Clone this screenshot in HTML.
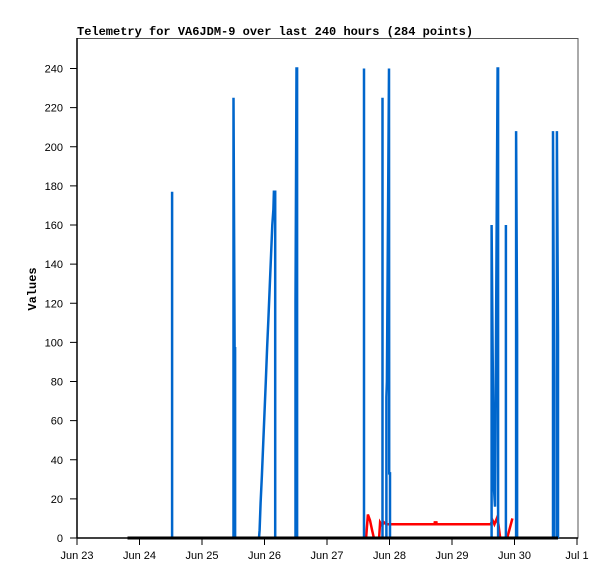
<!DOCTYPE html>
<html><head><meta charset="utf-8"><style>
body{margin:0;background:#fff;}
svg{display:block;}
</style></head><body>
<svg id="chart" width="615" height="579" xmlns="http://www.w3.org/2000/svg">
<rect width="615" height="579" fill="#fff"/>
<text x="77" y="35" font-family="Liberation Mono, monospace" font-weight="bold" font-size="12">Telemetry for VA6JDM-9 over last 240 hours (284 points)</text>
<text transform="translate(36,289) rotate(-90)" text-anchor="middle" font-family="Liberation Mono, monospace" font-weight="bold" font-size="12">Values</text>
<rect x="77" y="38.5" width="501" height="499.5" fill="none" stroke="#555" stroke-width="1"/>
<g id="axes"></g>
<g id="series"></g>
</svg>
<script>
const yTicks=[0,20,40,60,80,100,120,140,160,180,200,220,240];
const xTickLabels=["Jun 23","Jun 24","Jun 25","Jun 26","Jun 27","Jun 28","Jun 29","Jun 30","Jul 1"];
const blackT=[19.4,184.7];
const blackV=[0,0];
const blueT=[36.5,36.5,36.5, 60.1,60.1,60.5,60.7,60.7,
 69.9,70.1,70.5,71,71.5,72,72.5,73,73.5,74,74.5,75,75.4,75.6,76.1,76.1,
 83.9,83.9,84.3,84.5,84.5, 110.2,110.2,110.2, 117.3,117.3,117.3,
 118.8,118.8,119.0,119.8,119.9,120.2,120.2,
 159.2,159.2,159.6,160.1,160.5,161.5,161.7,161.7,
 164.7,164.7,164.7, 168.6,168.6,169,169, 182.8,182.8,183.2,183.2, 184.3,184.3,184.7,184.7];
const blueV=[0,177,0, 0,225,97,97,0,
 0,4,18,32,48,64,80,97,112,128,144,160,168,177,177,0,
 0,121,240,240,0, 0,240,0, 0,225,0,
 0,72,80,240,33,33,0,
 0,160,97,26,16,240,240,0,
 0,160,0, 0,208,104,0, 0,208,80,0, 0,208,104,0];
const redT=[111,111.7,112.5,113.3,114,116,116.4,117.1,117.9,118.7,137.3,137.4,138,138.1,158.8,159.6,160.3,161.2,161.8,162.5,165.2,167.2];
const redV=[0,12,9,4,0,0,8,6.5,8,7,7,8,8,7,7,9,7,10,7,0,0,10];

const X0=77,X1=577,Y0=538,Y240=68.5,TMAX=192;
const xs=t=>X0+(t/TMAX)*(X1-X0);
const ys=v=>Y0-(v/240)*(Y0-Y240);
const NS="http://www.w3.org/2000/svg";
const axes=document.getElementById('axes');
const series=document.getElementById('series');
function mk(tag,attrs,parent){const e=document.createElementNS(NS,tag);for(const k in attrs)e.setAttribute(k,attrs[k]);parent.appendChild(e);return e;}

const yl=mk('line',{x1:X0,y1:38,x2:X0,y2:Y0,stroke:'#000','stroke-width':1.5},axes);


const xl=mk('line',{x1:X0,y1:Y0,x2:578,y2:Y0,stroke:'#000','stroke-width':1.5},axes);


yTicks.forEach(v=>{
 const tk=mk('line',{x1:X0-7,y1:ys(v),x2:X0,y2:ys(v),stroke:'#000','stroke-width':1},axes);
 
 
 const tx=mk('text',{x:X0-14,y:ys(v)+4,'text-anchor':'end','font-family':'Liberation Sans, sans-serif','font-size':'11'},axes);
 
 
 tx.textContent=v;
});
xTickLabels.forEach((l,i)=>{
 const x=xs(i*24);
 const tk=mk('line',{x1:x,y1:Y0,x2:x,y2:Y0+7,stroke:'#000','stroke-width':1},axes);
 
 
 const tx=mk('text',{x:x,y:Y0+21,'text-anchor':'middle','font-family':'Liberation Sans, sans-serif','font-size':'11'},axes);
 
 
 tx.textContent=l;
});
function line(T,V,color,w,name){
 const pts=T.map((t,i)=>xs(t).toFixed(1)+','+ys(V[i]).toFixed(1)).join(' ');
 const p=mk('polyline',{points:pts,fill:'none',stroke:color,'stroke-width':w,'stroke-linejoin':'miter'},series);
 
 
}
line(redT,redV,'#f00',2.5,'series-red-line');
line(blueT,blueV,'#0066cc',2.5,'series-blue-line');
line(blackT,blackV,'#000',3,'series-black-line');
</script>
</body></html>
